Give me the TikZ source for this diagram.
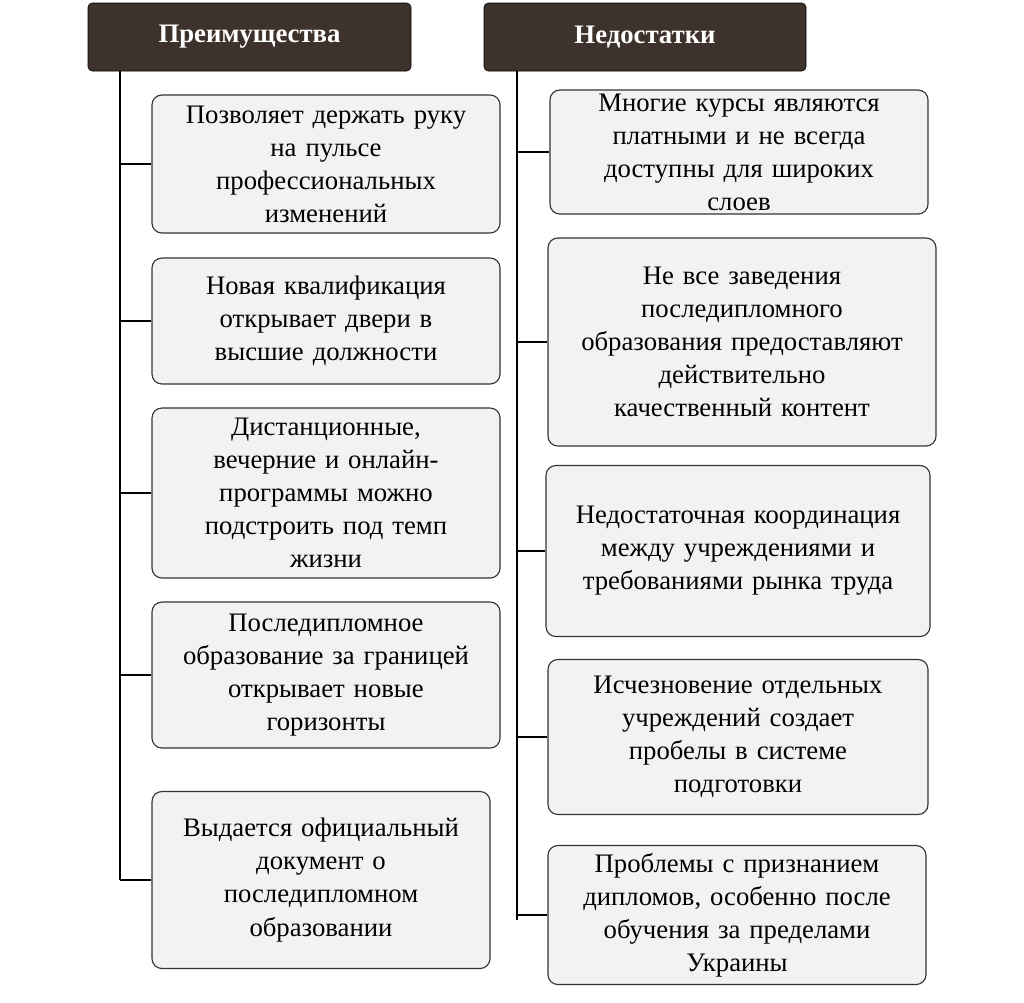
\documentclass[tikz,border=0pt]{standalone}
\usepackage{fontspec}
\setmainfont{Liberation Serif}
\definecolor{headbrown}{HTML}{3E322C}
\definecolor{boxgray}{HTML}{F2F2F2}
\tikzset{
  headbox/.style={draw=black, fill=headbrown, rounded corners=3pt, text=white,
    font=\fontsize{19}{22}\selectfont\bfseries, inner sep=0pt},
  itembox/.style={draw=black!80, fill=boxgray, rounded corners=7pt, thick,
    align=center, font=\fontsize{19}{23.5}\selectfont, inner sep=0pt},
  branch/.style={thick, black}
}
\begin{document}
\begin{tikzpicture}[x=0.025cm, y=-0.025cm]
  \useasboundingbox (0,0) rectangle (1024,1002);
  %% Headers
  \node[headbox, minimum width=323*0.025cm, minimum height=68*0.025cm] (adv) at (249.5,37) {Преимущества};
  \node[headbox, minimum width=322*0.025cm, minimum height=68*0.025cm] (dis) at (645,37) {Недостатки};
  %% Trunks
  \coordinate (ltop) at (120,71);
  \coordinate (lbot) at (120,880);
  \coordinate (rtop) at (517,71);
  \coordinate (rbot) at (517,920);
  \draw[branch] (ltop) -- (lbot);
  \draw[branch] (rtop) -- (rbot);
  %% Left boxes
  \node[itembox, minimum width=348*0.025cm, minimum height=138*0.025cm, text width=320*0.025cm] (a1) at (326,164) {Позволяет держать руку\\на пульсе\\профессиональных\\изменений};
  \node[itembox, minimum width=348*0.025cm, minimum height=126*0.025cm, text width=320*0.025cm] (a2) at (326,321) {Новая квалификация\\открывает двери в\\высшие должности};
  \node[itembox, minimum width=348*0.025cm, minimum height=170*0.025cm, text width=320*0.025cm] (a3) at (326,493) {Дистанционные,\\вечерние и онлайн-\\программы можно\\подстроить под темп\\жизни};
  \node[itembox, minimum width=348*0.025cm, minimum height=146*0.025cm, text width=320*0.025cm] (a4) at (326,675) {Последипломное\\образование за границей\\открывает новые\\горизонты};
  \node[itembox, minimum width=338*0.025cm, minimum height=177*0.025cm, text width=320*0.025cm] (a5) at (321,880) {Выдается официальный\\документ о\\последипломном\\образовании};
  %% Right boxes
  \node[itembox, minimum width=378*0.025cm, minimum height=124*0.025cm, text width=360*0.025cm] (d1) at (739,152) {Многие курсы являются\\платными и не всегда\\доступны для широких\\слоев};
  \node[itembox, minimum width=388*0.025cm, minimum height=208*0.025cm, text width=370*0.025cm] (d2) at (742,342) {Не все заведения\\последипломного\\образования предоставляют\\действительно\\качественный контент};
  \node[itembox, minimum width=384*0.025cm, minimum height=171*0.025cm, text width=370*0.025cm] (d3) at (738,551) {Недостаточная координация\\между учреждениями и\\требованиями рынка труда};
  \node[itembox, minimum width=380*0.025cm, minimum height=155*0.025cm, text width=360*0.025cm] (d4) at (738,737) {Исчезновение отдельных\\учреждений создает\\пробелы в системе\\подготовки};
  \node[itembox, minimum width=378*0.025cm, minimum height=139*0.025cm, text width=360*0.025cm] (d5) at (737,915) {Проблемы с признанием\\дипломов, особенно после\\обучения за пределами\\Украины};
  %% Branches
  \foreach \b in {a1,a2,a3,a4,a5}
    \draw[branch] (ltop |- \b.west) -- (\b.west);
  \foreach \b in {d1,d2,d3,d4,d5}
    \draw[branch] (rtop |- \b.west) -- (\b.west);
\end{tikzpicture}
\end{document}
